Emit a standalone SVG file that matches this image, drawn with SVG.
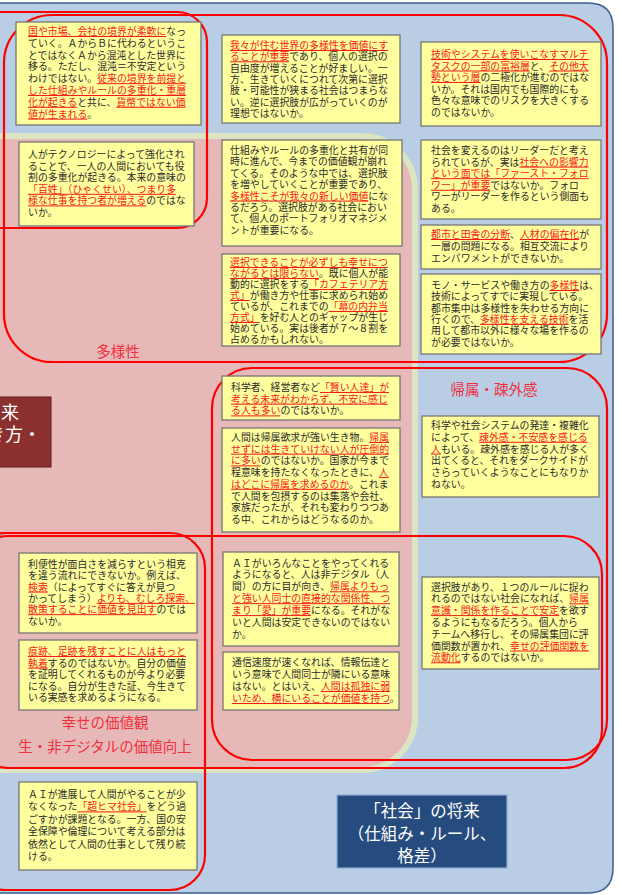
<svg xmlns="http://www.w3.org/2000/svg" width="622" height="895" viewBox="0 0 622 895">
<style>
.bx{fill:#ffff9e;stroke:#767676;stroke-width:1.3}
.t{font-family:"Noto Sans CJK JP","Noto Sans CJK SC",sans-serif;font-size:9.9px;fill:#2b2b2b}
.r{fill:#f51a1a;text-decoration:underline}
.rl{fill:none;stroke:#ff0000;stroke-width:2.2}
.lb{font-family:"Noto Sans CJK JP","Noto Sans CJK SC",sans-serif;font-size:14.5px;fill:#f0303f;text-anchor:middle}
.wt{font-family:"Noto Sans CJK JP","Noto Sans CJK SC",sans-serif;fill:#ffffff}
</style>
<rect width="622" height="895" fill="#ffffff"/>
<path d="M-10 3 H588 Q613 3 613 28 V868 Q613 893 588 893 H-10 Z" fill="#b9cde5" stroke="#3b5e8c" stroke-width="1.5"/>
<path d="M-40 139 H362 A50 50 0 0 1 412 189 V717 A50 50 0 0 1 362 767 H-40 Z" fill="#e6b9b8" stroke="#dbe5c1" stroke-width="12" paint-order="stroke"/>

<g id="regions">
<rect class="rl" x="-30" y="12" width="237" height="216" rx="30"/>
<rect class="rl" x="4" y="15" width="603" height="347" rx="48"/>
<rect class="rl" x="212" y="368" width="395" height="392" rx="40"/>
<rect class="rl" x="-30" y="536" width="632" height="232" rx="38"/>
<rect class="rl" x="-30" y="533" width="235" height="357" rx="35"/>
</g>

<g id="labels">
<text class="lb" x="118" y="357">多様性</text>
<text class="lb" x="494" y="395">帰属・疎外感</text>
<text class="lb"><tspan x="105" y="728">幸せの価値観</tspan><tspan x="105" y="752">生・非デジタルの価値向上</tspan></text>
</g>

<g id="person-future">
<rect x="-5" y="397" width="56" height="70" fill="#8c2f2f" stroke="#5a1a1a" stroke-width="1"/>
<text class="wt" font-size="18"><tspan x="1" y="419">来</tspan><tspan x="-13" y="441">き方・</tspan></text>
</g>

<g id="society-future">
<rect x="337" y="795" width="170" height="73" fill="#264b7e" stroke="#8eaad2" stroke-width="1.2"/>
<text class="wt" font-size="16.5" text-anchor="middle"><tspan x="422" y="817">「社会」の将来</tspan><tspan x="422" y="840">（仕組み・ルール、</tspan><tspan x="422" y="862">格差）</tspan></text>
</g>

<g id="n1">
<rect class="bx" x="16" y="22" width="185" height="103"/>
<text class="t"><tspan x="28" y="35"><tspan class="r">国や市場、会社の境界が柔軟に</tspan>なっ</tspan><tspan x="28" y="46.8">ていく。ＡからＢに代わるというこ</tspan><tspan x="28" y="58.6">とではなくＡから混沌とした世界に</tspan><tspan x="28" y="70.4">移る。ただし、混沌＝不安定という</tspan><tspan x="28" y="82.2">わけではない。<tspan class="r">従来の境界を前提と</tspan></tspan><tspan x="28" y="94" class="r">した仕組みやルールの多重化・重層</tspan><tspan x="28" y="105.8"><tspan class="r">化が起きる</tspan>と共に、<tspan class="r">貨幣ではない価</tspan></tspan><tspan x="28" y="117.6"><tspan class="r">値が生まれる</tspan>。</tspan></text>
</g>

<g id="n2">
<rect class="bx" x="19" y="142" width="175" height="84"/>
<text class="t"><tspan x="28" y="158">人がテクノロジーによって強化され</tspan><tspan x="28" y="169.6">ることで、一人の人間においても役</tspan><tspan x="28" y="181.2">割の多重化が起きる。本来の意味の</tspan><tspan x="28" y="192.8" class="r">「百姓」（ひゃくせい）、つまり多</tspan><tspan x="28" y="204.4"><tspan class="r">様な仕事を持つ者が増える</tspan>のではな</tspan><tspan x="28" y="216">いか。</tspan></text>
</g>

<g id="n3">
<rect class="bx" x="222" y="35" width="178" height="88"/>
<text class="t"><tspan x="230" y="49" class="r">我々が住む世界の多様性を価値にす</tspan><tspan x="230" y="60.3"><tspan class="r">ることが重要</tspan>であり、個人の選択の</tspan><tspan x="230" y="71.6">自由度が増えることが好ましい。一</tspan><tspan x="230" y="82.9">方、生きていくにつれて次第に選択</tspan><tspan x="230" y="94.2">肢・可能性が狭まる社会はつまらな</tspan><tspan x="230" y="105.5">い。逆に選択肢が広がっていくのが</tspan><tspan x="230" y="116.8">理想ではないか。</tspan></text>
</g>

<g id="n4">
<rect class="bx" x="222" y="140" width="180" height="106"/>
<text class="t"><tspan x="230" y="154">仕組みやルールの多重化と共有が同</tspan><tspan x="230" y="165.4">時に進んで、今までの価値観が崩れ</tspan><tspan x="230" y="176.8">てくる。そのような中では、選択肢</tspan><tspan x="230" y="188.2">を増やしていくことが重要であり、</tspan><tspan x="230" y="199.6"><tspan class="r">多様性こそが我々の新しい価値</tspan>にな</tspan><tspan x="230" y="211">るだろう。選択肢がある社会におい</tspan><tspan x="230" y="222.4">て、個人のポートフォリオマネジメ</tspan><tspan x="230" y="233.8">ントが重要になる。</tspan></text>
</g>

<g id="n5">
<rect class="bx" x="222" y="254" width="178" height="92"/>
<text class="t"><tspan x="230" y="266" class="r">選択できることが必ずしも幸せにつ</tspan><tspan x="230" y="277"><tspan class="r">ながるとは限らない</tspan>。既に個人が能</tspan><tspan x="230" y="288">動的に選択をする<tspan class="r">「カフェテリア方</tspan></tspan><tspan x="230" y="299"><tspan class="r">式」</tspan>が働き方や仕事に求められ始め</tspan><tspan x="230" y="310">ているが、これまでの<tspan class="r">「幕の内弁当</tspan></tspan><tspan x="230" y="321"><tspan class="r">方式」</tspan>を好む人とのギャップが生じ</tspan><tspan x="230" y="332">始めている。実は後者が７～８割を</tspan><tspan x="230" y="343">占めるかもしれない。</tspan></text>
</g>

<g id="n6">
<rect class="bx" x="421" y="42" width="180" height="84"/>
<text class="t"><tspan x="431" y="58" class="r">技術やシステムを使いこなすマルチ</tspan><tspan x="431" y="69.5"><tspan class="r">タスクの一部の富裕層</tspan>と、<tspan class="r">その他大</tspan></tspan><tspan x="431" y="81"><tspan class="r">勢という層</tspan>の二極化が進むのではな</tspan><tspan x="431" y="92.5">いか。それは国内でも国際的にも</tspan><tspan x="431" y="104">色々な意味でのリスクを大きくする</tspan><tspan x="431" y="115.5">のではないか。</tspan></text>
</g>

<g id="n7">
<rect class="bx" x="421" y="140" width="180" height="79"/>
<text class="t"><tspan x="431" y="154">社会を変えるのはリーダーだと考え</tspan><tspan x="431" y="165.6">られているが、実は<tspan class="r">社会への影響力</tspan></tspan><tspan x="431" y="177.2" class="r">という面では「ファースト・フォロ</tspan><tspan x="431" y="188.8"><tspan class="r">ワー」が重要</tspan>ではないか。フォロ</tspan><tspan x="431" y="200.4">ワーがリーダーを作るという側面も</tspan><tspan x="431" y="212">ある。</tspan></text>
</g>

<g id="n8">
<rect class="bx" x="421" y="225" width="180" height="44"/>
<text class="t"><tspan x="431" y="238"><tspan class="r">都市と田舎の分断</tspan>、<tspan class="r">人材の偏在化</tspan>が</tspan><tspan x="431" y="250">一層の問題になる。相互交流により</tspan><tspan x="431" y="262">エンパワメントができないか。</tspan></text>
</g>

<g id="n9">
<rect class="bx" x="421" y="274" width="180" height="80"/>
<text class="t"><tspan x="431" y="289">モノ・サービスや働き方の<tspan class="r">多様性</tspan>は、</tspan><tspan x="431" y="300.3">技術によってすでに実現している。</tspan><tspan x="431" y="311.6">都市集中は多様性を失わせる方向に</tspan><tspan x="431" y="322.9">行くので、<tspan class="r">多様性を支える技術</tspan>を活</tspan><tspan x="431" y="334.2">用して都市以外に様々な場を作るの</tspan><tspan x="431" y="345.5">が必要ではないか。</tspan></text>
</g>

<g id="n10">
<rect class="bx" x="222" y="376" width="178" height="44"/>
<text class="t"><tspan x="231" y="391">科学者、経営者など<tspan class="r">「賢い人達」が</tspan></tspan><tspan x="231" y="402.7" class="r">考える未来がわからず、不安に感じ</tspan><tspan x="231" y="414.4"><tspan class="r">る人も多い</tspan>のではないか。</tspan></text>
</g>

<g id="n11">
<rect class="bx" x="222" y="428" width="178" height="104"/>
<text class="t"><tspan x="231" y="441">人間は帰属欲求が強い生き物。<tspan class="r">帰属</tspan></tspan><tspan x="231" y="452.7" class="r">せずには生きていけない人が圧倒的</tspan><tspan x="231" y="464.4"><tspan class="r">に多い</tspan>のではないか。国家が今まで</tspan><tspan x="231" y="476.1">程意味を持たなくなったときに、<tspan class="r">人</tspan></tspan><tspan x="231" y="487.8"><tspan class="r">はどこに帰属を求めるのか</tspan>。これま</tspan><tspan x="231" y="499.5">で人間を包摂するのは集落や会社、</tspan><tspan x="231" y="511.2">家族だったが、それも変わりつつあ</tspan><tspan x="231" y="522.9">る中、これからはどうなるのか。</tspan></text>
</g>

<g id="n12">
<rect class="bx" x="422" y="416" width="177" height="81"/>
<text class="t"><tspan x="431" y="429">科学や社会システムの発達・複雑化</tspan><tspan x="431" y="440.8">によって、<tspan class="r">疎外感・不安感を感じる</tspan></tspan><tspan x="431" y="452.6"><tspan class="r">人</tspan>もいる。疎外感を感じる人が多く</tspan><tspan x="431" y="464.4">出てくると、それをダークサイドが</tspan><tspan x="431" y="476.2">さらっていくようなことにもなりか</tspan><tspan x="431" y="488">ねない。</tspan></text>
</g>

<g id="n13">
<rect class="bx" x="422" y="577" width="177" height="92"/>
<text class="t"><tspan x="431" y="590.5">選択肢があり、１つのルールに捉わ</tspan><tspan x="431" y="602.3">れるのではない社会になれば、<tspan class="r">帰属</tspan></tspan><tspan x="431" y="614.1"><tspan class="r">意識・関係を作ることで安定</tspan>を欲す</tspan><tspan x="431" y="625.9">るようにもなるだろう。個人から</tspan><tspan x="431" y="637.7">チームへ移行し、その帰属集団に評</tspan><tspan x="431" y="649.5">価関数が置かれ、<tspan class="r">幸せの評価関数を</tspan></tspan><tspan x="431" y="661.3"><tspan class="r">流動化</tspan>するのではないか。</tspan></text>
</g>

<g id="n14">
<rect class="bx" x="223" y="552" width="176" height="94"/>
<text class="t"><tspan x="232" y="566.5">ＡＩがいろんなことをやってくれる</tspan><tspan x="232" y="578.4">ようになると、人は非デジタル（人</tspan><tspan x="232" y="590.3">間）の方に目が向き、<tspan class="r">帰属よりもっ</tspan></tspan><tspan x="232" y="602.2" class="r">と強い人同士の直接的な関係性、つ</tspan><tspan x="232" y="614.1"><tspan class="r">まり「愛」が重要</tspan>になる。それがな</tspan><tspan x="232" y="626">いと人間は安定できないのではない</tspan><tspan x="232" y="637.9">か。</tspan></text>
</g>

<g id="n15">
<rect class="bx" x="223" y="652" width="176" height="58"/>
<text class="t"><tspan x="232" y="666">通信速度が速くなれば、情報伝達と</tspan><tspan x="232" y="678">いう意味で人間同士が隣にいる意味</tspan><tspan x="232" y="690">はない。とはいえ、<tspan class="r">人間は孤独に弱</tspan></tspan><tspan x="232" y="702"><tspan class="r">いため、横にいることが価値を持つ</tspan>。</tspan></text>
</g>

<g id="n16">
<rect class="bx" x="19" y="553" width="178" height="80"/>
<text class="t"><tspan x="28" y="568">利便性が面白さを減らすという相克</tspan><tspan x="28" y="579.3">を違う流れにできないか。例えば、</tspan><tspan x="28" y="590.6"><tspan class="r">検索</tspan>（によってすぐに答えが見つ</tspan><tspan x="28" y="601.9">かってしまう）<tspan class="r">よりも、むしろ探索、</tspan></tspan><tspan x="28" y="613.2"><tspan class="r">散策することに価値を見出す</tspan>のでは</tspan><tspan x="28" y="624.5">ないか。</tspan></text>
</g>

<g id="n17">
<rect class="bx" x="19" y="640" width="178" height="70"/>
<text class="t"><tspan x="28" y="655" class="r">痕跡、足跡を残すことに人はもっと</tspan><tspan x="28" y="666.6"><tspan class="r">執着</tspan>するのではないか。自分の価値</tspan><tspan x="28" y="678.2">を証明してくれるものが今より必要</tspan><tspan x="28" y="689.8">になる。自分が生きた証、今生きて</tspan><tspan x="28" y="701.4">いる実感を求めるようになる。</tspan></text>
</g>

<g id="n18">
<rect class="bx" x="19" y="782" width="178" height="88"/>
<text class="t"><tspan x="28" y="798">ＡＩが進展して人間がやることが少</tspan><tspan x="28" y="810.4">なくなった<tspan class="r">「超ヒマ社会」</tspan>をどう過</tspan><tspan x="28" y="822.8">ごすかが課題となる。一方、国の安</tspan><tspan x="28" y="835.2">全保障や倫理について考える部分は</tspan><tspan x="28" y="847.6">依然として人間の仕事として残り続</tspan><tspan x="28" y="860">ける。</tspan></text>
</g>
</svg>
